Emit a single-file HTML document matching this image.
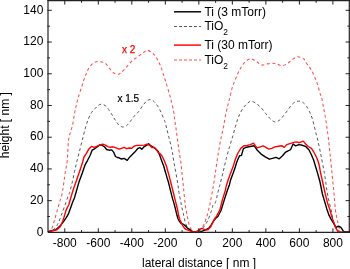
<!DOCTYPE html>
<html><head><meta charset="utf-8"><style>
html,body{margin:0;padding:0;background:#fff;}
body{width:350px;height:269px;overflow:hidden;}
svg{display:block;filter:blur(0.35px);}
text{font-family:"Liberation Sans",sans-serif;font-size:12px;fill:#000;}
</style></head><body>
<svg width="350" height="269" viewBox="0 0 350 269">
<rect width="350" height="269" fill="#fff"/>
<g fill="none" stroke-linejoin="round" stroke-linecap="butt">
<path d="M48.00,232.00 C48.53,231.67 50.18,231.75 51.20,230.00 C52.22,228.25 53.15,224.57 54.10,221.50 C55.05,218.43 55.97,214.90 56.90,211.60 C57.83,208.30 59.00,203.97 59.70,201.70 C60.40,199.43 60.62,199.77 61.10,198.00 C61.58,196.23 62.12,193.90 62.60,191.10 C63.08,188.30 63.53,184.50 64.00,181.20 C64.47,177.90 64.85,174.83 65.40,171.30 C65.95,167.77 66.78,165.13 67.30,160.00 C67.82,154.87 67.97,145.17 68.50,140.50 C69.03,135.83 69.82,134.57 70.50,132.00 C71.18,129.43 71.93,128.15 72.60,125.10 C73.27,122.05 73.87,117.08 74.50,113.70 C75.13,110.32 75.70,107.75 76.40,104.80 C77.10,101.85 77.77,99.13 78.70,96.00 C79.63,92.87 81.13,88.70 82.00,86.00 C82.87,83.30 83.27,81.67 83.90,79.80 C84.53,77.93 85.17,76.38 85.80,74.80 C86.43,73.22 86.85,71.88 87.70,70.30 C88.55,68.72 89.63,66.67 90.90,65.30 C92.17,63.93 93.73,62.70 95.30,62.10 C96.87,61.50 98.62,61.48 100.30,61.70 C101.98,61.92 103.92,62.38 105.40,63.40 C106.88,64.42 107.87,66.23 109.20,67.80 C110.53,69.37 111.90,71.72 113.40,72.80 C114.90,73.88 116.87,74.37 118.20,74.30 C119.53,74.23 120.35,73.23 121.40,72.40 C122.45,71.57 123.35,70.55 124.50,69.30 C125.65,68.05 126.92,66.42 128.30,64.90 C129.68,63.38 131.22,61.58 132.80,60.20 C134.38,58.82 136.12,57.78 137.80,56.60 C139.48,55.42 141.32,54.15 142.90,53.10 C144.48,52.05 145.83,50.35 147.30,50.30 C148.77,50.25 150.38,51.85 151.70,52.80 C153.02,53.75 153.77,53.92 155.20,56.00 C156.63,58.08 158.62,61.22 160.30,65.30 C161.98,69.38 163.68,75.38 165.30,80.50 C166.92,85.62 168.90,92.15 170.00,96.00 C171.10,99.85 171.27,100.87 171.90,103.60 C172.53,106.33 173.33,109.67 173.80,112.40 C174.27,115.13 174.35,117.47 174.70,120.00 C175.05,122.53 175.53,125.07 175.90,127.60 C176.27,130.13 176.53,132.47 176.90,135.20 C177.27,137.93 177.73,141.27 178.10,144.00 C178.47,146.73 178.63,148.50 179.10,151.60 C179.57,154.70 180.38,158.65 180.90,162.60 C181.42,166.55 181.83,171.73 182.20,175.30 C182.57,178.87 182.80,181.12 183.10,184.00 C183.40,186.88 183.63,189.05 184.00,192.60 C184.37,196.15 184.78,201.55 185.30,205.30 C185.82,209.05 186.48,211.98 187.10,215.10 C187.72,218.22 188.27,221.57 189.00,224.00 C189.73,226.43 190.45,228.40 191.50,229.70 C192.55,231.00 194.25,231.50 195.30,231.80 C196.35,232.10 196.85,231.97 197.80,231.50 C198.75,231.03 199.95,230.25 201.00,229.00 C202.05,227.75 203.05,226.32 204.10,224.00 C205.15,221.68 206.45,217.85 207.30,215.10 C208.15,212.35 208.70,209.58 209.20,207.50 C209.70,205.42 209.73,205.52 210.30,202.60 C210.87,199.68 212.07,192.88 212.60,190.00 C213.13,187.12 213.03,188.20 213.50,185.30 C213.97,182.40 214.72,177.22 215.40,172.60 C216.08,167.98 216.92,162.00 217.60,157.60 C218.28,153.20 218.87,149.78 219.50,146.20 C220.13,142.62 220.70,139.47 221.40,136.10 C222.10,132.73 222.97,129.73 223.70,126.00 C224.43,122.27 225.03,117.43 225.80,113.70 C226.57,109.97 227.57,106.55 228.30,103.60 C229.03,100.65 229.52,98.78 230.20,96.00 C230.88,93.22 231.60,89.48 232.40,86.90 C233.20,84.32 234.15,82.62 235.00,80.50 C235.85,78.38 236.67,76.08 237.50,74.20 C238.33,72.32 239.05,70.88 240.00,69.20 C240.95,67.52 242.03,65.58 243.20,64.10 C244.37,62.62 245.63,61.18 247.00,60.30 C248.37,59.42 250.02,58.72 251.40,58.80 C252.78,58.88 254.23,60.18 255.30,60.80 C256.37,61.42 256.75,61.78 257.80,62.50 C258.85,63.22 260.23,64.82 261.60,65.10 C262.97,65.38 264.32,64.52 266.00,64.20 C267.68,63.88 269.90,63.27 271.70,63.20 C273.50,63.13 275.12,63.38 276.80,63.80 C278.48,64.22 280.12,65.70 281.80,65.70 C283.48,65.70 285.22,64.75 286.90,63.80 C288.58,62.85 290.17,61.17 291.90,60.00 C293.63,58.83 295.30,56.97 297.30,56.80 C299.30,56.63 302.58,58.22 303.90,59.00 C305.22,59.78 303.93,59.60 305.20,61.50 C306.47,63.40 309.60,67.02 311.50,70.40 C313.40,73.78 315.12,77.80 316.60,81.80 C318.08,85.80 319.57,91.82 320.40,94.40 C321.23,96.98 321.08,95.13 321.60,97.30 C322.12,99.47 322.87,104.03 323.50,107.40 C324.13,110.77 324.83,114.18 325.40,117.50 C325.97,120.82 326.45,124.20 326.90,127.30 C327.35,130.40 327.73,133.15 328.10,136.10 C328.47,139.05 328.78,142.05 329.10,145.00 C329.42,147.95 329.73,151.30 330.00,153.80 C330.27,156.30 330.38,156.87 330.70,160.00 C331.02,163.13 331.48,168.38 331.90,172.60 C332.32,176.82 332.82,181.40 333.20,185.30 C333.58,189.20 333.83,191.88 334.20,196.00 C334.57,200.12 334.98,206.48 335.40,210.00 C335.82,213.52 336.25,214.87 336.70,217.10 C337.15,219.33 337.65,221.45 338.10,223.40 C338.55,225.35 338.95,227.38 339.40,228.80 C339.85,230.22 340.03,231.32 340.80,231.90 C341.57,232.48 342.47,232.23 344.00,232.30 C345.53,232.37 349.00,232.30 350.00,232.30" stroke="#ff4c4c" stroke-width="1.05" stroke-dasharray="3 2.6"/>
<path d="M48.00,232.00 C48.42,231.93 49.60,231.93 50.50,231.60 C51.40,231.27 52.22,231.22 53.40,230.00 C54.58,228.78 56.32,226.67 57.60,224.30 C58.88,221.93 59.92,218.87 61.10,215.80 C62.28,212.73 63.52,209.20 64.70,205.90 C65.88,202.60 67.38,198.23 68.20,196.00 C69.02,193.77 68.88,194.97 69.60,192.50 C70.32,190.03 71.67,184.73 72.50,181.20 C73.33,177.67 73.90,174.48 74.60,171.30 C75.30,168.12 75.78,165.83 76.70,162.10 C77.62,158.37 79.02,153.20 80.10,148.90 C81.18,144.60 82.23,140.07 83.20,136.30 C84.17,132.53 85.03,129.22 85.90,126.30 C86.77,123.38 87.45,121.12 88.40,118.80 C89.35,116.48 90.50,114.10 91.60,112.40 C92.70,110.70 93.90,109.75 95.00,108.60 C96.10,107.45 97.15,106.23 98.20,105.50 C99.25,104.77 100.15,104.20 101.30,104.20 C102.45,104.20 104.05,104.87 105.10,105.50 C106.15,106.13 106.55,106.63 107.60,108.00 C108.65,109.37 110.13,111.70 111.40,113.70 C112.67,115.70 113.93,118.10 115.20,120.00 C116.47,121.90 117.73,123.93 119.00,125.10 C120.27,126.27 121.53,126.90 122.80,127.00 C124.07,127.10 125.33,126.65 126.60,125.70 C127.87,124.75 129.13,122.88 130.40,121.30 C131.67,119.72 132.77,117.88 134.20,116.20 C135.63,114.52 137.57,112.98 139.00,111.20 C140.43,109.42 141.53,107.18 142.80,105.50 C144.07,103.82 145.33,102.10 146.60,101.10 C147.87,100.10 149.13,99.40 150.40,99.50 C151.67,99.60 152.93,100.50 154.20,101.70 C155.47,102.90 156.85,104.92 158.00,106.70 C159.15,108.48 160.15,110.38 161.10,112.40 C162.05,114.42 163.02,117.12 163.70,118.80 C164.38,120.48 164.63,120.62 165.20,122.50 C165.77,124.38 166.47,127.57 167.10,130.10 C167.73,132.63 168.37,135.17 169.00,137.70 C169.63,140.23 170.32,142.77 170.90,145.30 C171.48,147.83 171.98,150.02 172.50,152.90 C173.02,155.78 173.43,159.28 174.00,162.60 C174.57,165.92 175.27,169.23 175.90,172.80 C176.53,176.37 177.28,180.70 177.80,184.00 C178.32,187.30 178.40,189.10 179.00,192.60 C179.60,196.10 180.68,201.47 181.40,205.00 C182.12,208.53 182.57,210.63 183.30,213.80 C184.03,216.97 184.85,221.35 185.80,224.00 C186.75,226.65 187.83,228.40 189.00,229.70 C190.17,231.00 191.55,231.43 192.80,231.80 C194.05,232.17 195.25,232.15 196.50,231.90 C197.75,231.65 199.03,231.20 200.30,230.30 C201.57,229.40 202.83,228.18 204.10,226.50 C205.37,224.82 206.63,222.93 207.90,220.20 C209.17,217.47 210.85,212.63 211.70,210.10 C212.55,207.57 212.38,206.25 213.00,205.00 C213.62,203.75 214.48,205.10 215.40,202.60 C216.32,200.10 217.77,192.88 218.50,190.00 C219.23,187.12 219.05,188.20 219.80,185.30 C220.55,182.40 221.92,177.07 223.00,172.60 C224.08,168.13 225.18,162.90 226.30,158.50 C227.42,154.10 228.62,149.93 229.70,146.20 C230.78,142.47 231.87,139.33 232.80,136.10 C233.73,132.87 234.47,129.68 235.30,126.80 C236.13,123.92 236.97,121.08 237.80,118.80 C238.63,116.52 239.35,115.00 240.30,113.10 C241.25,111.20 242.23,109.08 243.50,107.40 C244.77,105.72 246.60,104.05 247.90,103.00 C249.20,101.95 249.90,101.00 251.30,101.10 C252.70,101.20 254.62,102.45 256.30,103.60 C257.98,104.75 259.82,106.32 261.40,108.00 C262.98,109.68 264.43,112.02 265.80,113.70 C267.17,115.38 268.12,116.73 269.60,118.10 C271.08,119.47 273.02,121.58 274.70,121.90 C276.38,122.22 278.13,121.15 279.70,120.00 C281.27,118.85 282.73,116.68 284.10,115.00 C285.47,113.32 286.63,111.60 287.90,109.90 C289.17,108.20 290.50,106.10 291.70,104.80 C292.90,103.50 293.92,102.72 295.10,102.10 C296.28,101.48 297.55,101.07 298.80,101.10 C300.05,101.13 301.33,101.47 302.60,102.30 C303.87,103.13 305.23,104.52 306.40,106.10 C307.57,107.68 308.65,109.80 309.60,111.80 C310.55,113.80 311.33,115.73 312.10,118.10 C312.87,120.47 313.53,123.42 314.20,126.00 C314.87,128.58 315.47,131.07 316.10,133.60 C316.73,136.13 317.37,138.47 318.00,141.20 C318.63,143.93 319.32,147.20 319.90,150.00 C320.48,152.80 320.77,154.23 321.50,158.00 C322.23,161.77 323.52,168.05 324.30,172.60 C325.08,177.15 325.67,181.73 326.20,185.30 C326.73,188.87 327.03,191.32 327.50,194.00 C327.97,196.68 328.37,198.68 329.00,201.40 C329.63,204.12 330.68,207.57 331.30,210.30 C331.92,213.03 331.97,214.82 332.70,217.80 C333.43,220.78 334.45,225.93 335.70,228.20 C336.95,230.47 338.82,230.77 340.20,231.40 C341.58,232.03 342.37,231.87 344.00,232.00 C345.63,232.13 349.00,232.17 350.00,232.20" stroke="#585858" stroke-width="1" stroke-dasharray="3 2.6"/>
<path d="M48.0,231.6 L51.2,230.7 L55.5,230.0 L59.7,226.4 L62.6,222.9 L66.1,217.9 L68.2,214.4 L70.3,208.7 L72.5,202.4 L74.6,197.4 L76.0,192.5 L78.8,182.6 L82.4,172.7 L85.2,164.6 L87.6,160.3 L90.2,155.2 L92.1,150.2 L94.0,149.2 L97.1,147.0 L99.7,144.9 L102.2,145.4 L104.7,147.0 L106.6,149.5 L109.1,150.2 L111.7,149.9 L113.6,152.1 L115.5,156.5 L117.3,157.5 L119.0,157.8 L121.5,159.0 L124.1,158.4 L127.2,160.3 L129.1,157.8 L131.6,155.2 L134.8,152.1 L138.0,148.3 L139.9,147.6 L141.8,149.2 L144.3,146.6 L146.8,145.1 L148.7,143.8 L150.6,145.7 L153.1,147.0 L155.7,148.9 L158.2,151.4 L158.9,153.3 L160.0,156.0 L161.4,160.0 L162.7,163.4 L163.7,166.0 L165.0,170.7 L166.4,175.4 L167.7,180.1 L168.4,182.0 L169.7,187.4 L171.0,192.7 L172.4,198.1 L174.0,203.4 L175.4,208.7 L176.2,212.2 L177.0,215.3 L178.0,218.7 L179.4,221.4 L181.4,223.7 L183.7,224.4 L185.4,226.1 L187.4,228.1 L189.6,229.3 L191.3,230.9 L193.4,231.8 L196.5,232.2 L199.7,232.2 L202.9,230.9 L206.0,229.7 L208.6,228.4 L211.1,225.2 L213.5,221.0 L215.5,218.5 L217.9,216.5 L221.1,210.2 L224.2,200.1 L227.4,190.3 L229.3,185.3 L230.5,180.2 L234.3,170.1 L236.5,163.0 L237.7,159.8 L239.6,155.8 L241.5,155.4 L243.4,148.6 L246.5,147.2 L250.3,146.5 L254.1,145.7 L257.3,150.3 L261.1,154.1 L264.9,156.7 L269.3,159.2 L272.5,158.3 L276.0,157.3 L279.2,158.8 L282.3,156.0 L285.5,152.2 L288.0,151.0 L290.5,149.7 L293.1,144.0 L295.6,145.9 L298.8,144.6 L302.5,145.3 L305.7,146.5 L308.9,149.7 L311.4,154.8 L313.6,160.0 L317.4,172.6 L319.9,181.5 L322.4,194.0 L324.6,201.4 L326.8,208.9 L329.1,215.4 L330.9,218.9 L333.2,222.5 L334.9,225.6 L336.3,227.4 L337.6,226.5 L339.0,226.3 L340.8,227.4 L342.1,229.2 L343.4,231.3 L345.2,231.9 L350.0,231.7" stroke="#000" stroke-width="1.4"/>
<path d="M49.5,232.0 L50.5,231.3 L52.7,230.7 L56.9,229.7 L60.4,226.4 L62.6,221.5 L64.0,217.2 L66.1,210.1 L68.9,204.5 L70.3,199.5 L71.3,196.0 L73.2,189.7 L76.7,179.8 L80.5,168.7 L82.8,161.5 L84.0,157.0 L86.4,153.3 L88.9,148.9 L91.4,146.4 L94.0,147.4 L96.5,146.4 L99.7,145.1 L102.8,144.1 L105.3,145.1 L107.9,146.6 L110.4,147.3 L112.9,146.8 L115.5,147.6 L119.0,149.2 L121.5,148.3 L124.1,147.4 L126.6,148.7 L129.1,148.0 L131.6,148.3 L134.2,146.1 L136.7,145.4 L140.5,145.4 L144.3,145.1 L146.8,144.1 L149.3,145.1 L151.9,147.6 L154.4,147.4 L156.9,150.5 L158.0,152.3 L160.7,154.2 L162.4,156.7 L164.0,160.0 L165.4,163.4 L166.4,166.0 L167.7,170.7 L169.0,175.4 L170.0,179.4 L170.7,182.0 L172.0,187.4 L173.4,192.7 L174.7,198.1 L176.0,203.4 L177.4,208.7 L178.1,212.5 L178.7,216.0 L180.0,220.0 L181.7,223.4 L183.0,226.1 L184.4,228.1 L186.0,229.4 L190.0,230.8 L193.4,231.8 L196.5,231.5 L199.1,229.7 L201.6,228.4 L203.5,229.0 L205.4,230.0 L207.9,229.7 L210.5,227.1 L212.6,223.0 L214.5,219.0 L216.6,216.2 L219.8,210.2 L222.3,200.1 L225.5,190.0 L226.1,186.5 L228.0,180.2 L231.8,170.1 L233.5,165.5 L235.3,159.5 L237.7,153.5 L240.8,148.4 L244.0,145.7 L247.2,145.5 L250.3,144.6 L253.5,143.1 L255.4,145.9 L257.3,147.8 L260.4,146.9 L263.0,145.9 L265.5,147.2 L268.7,149.1 L271.8,148.4 L275.0,146.9 L278.5,146.2 L281.7,145.7 L284.2,147.4 L286.7,144.6 L289.9,143.6 L293.1,142.7 L296.2,141.9 L299.4,142.7 L303.2,141.1 L305.7,144.0 L308.2,146.5 L311.4,148.4 L313.9,152.2 L316.5,157.3 L318.0,161.0 L319.3,165.5 L320.5,172.6 L323.1,184.0 L325.3,194.0 L327.5,202.9 L330.0,210.0 L331.4,215.4 L332.7,219.8 L334.5,224.3 L335.8,227.9 L337.2,230.5 L338.5,231.9 L341.6,232.3 L350.0,232.1" stroke="#ff0000" stroke-width="1.4"/>
</g>
<g fill="none" stroke="#222" stroke-width="1.2">
<path d="M48.0,0 V232.4"/>
<path d="M48.0,232.4 H350"/>
<path d="M47.4,0.6 H350"/>
<path d="M349.3,0 V232.4"/>
<path d="M64.78,232.9 V228.3 M64.78,0 V4.6 M81.54,232.9 V230.1 M81.54,0 V2.8 M98.30,232.9 V228.3 M98.30,0 V4.6 M115.06,232.9 V230.1 M115.06,0 V2.8 M131.81,232.9 V228.3 M131.81,0 V4.6 M148.57,232.9 V230.1 M148.57,0 V2.8 M165.33,232.9 V228.3 M165.33,0 V4.6 M182.08,232.9 V230.1 M182.08,0 V2.8 M198.84,232.9 V228.3 M198.84,0 V4.6 M215.60,232.9 V230.1 M215.60,0 V2.8 M232.35,232.9 V228.3 M232.35,0 V4.6 M249.11,232.9 V230.1 M249.11,0 V2.8 M265.87,232.9 V228.3 M265.87,0 V4.6 M282.62,232.9 V230.1 M282.62,0 V2.8 M299.38,232.9 V228.3 M299.38,0 V4.6 M316.14,232.9 V230.1 M316.14,0 V2.8 M332.90,232.9 V228.3 M332.90,0 V4.6 M47.4,216.54 H50.0 M350,216.54 H347.4 M47.4,200.67 H51.8 M350,200.67 H345.6 M47.4,184.81 H50.0 M350,184.81 H347.4 M47.4,168.94 H51.8 M350,168.94 H345.6 M47.4,153.08 H50.0 M350,153.08 H347.4 M47.4,137.22 H51.8 M350,137.22 H345.6 M47.4,121.35 H50.0 M350,121.35 H347.4 M47.4,105.49 H51.8 M350,105.49 H345.6 M47.4,89.62 H50.0 M350,89.62 H347.4 M47.4,73.76 H51.8 M350,73.76 H345.6 M47.4,57.90 H50.0 M350,57.90 H347.4 M47.4,42.03 H51.8 M350,42.03 H345.6 M47.4,26.17 H50.0 M350,26.17 H347.4 M47.4,10.30 H51.8 M350,10.30 H345.6" stroke-width="1"/>
</g>
<text x="43.4" y="235.60" text-anchor="end">0</text><text x="43.4" y="203.87" text-anchor="end">20</text><text x="43.4" y="172.14" text-anchor="end">40</text><text x="43.4" y="140.42" text-anchor="end">60</text><text x="43.4" y="108.69" text-anchor="end">80</text><text x="43.4" y="76.96" text-anchor="end">100</text><text x="43.4" y="45.23" text-anchor="end">120</text><text x="43.4" y="13.50" text-anchor="end">140</text>
<text x="64.78" y="246.6" text-anchor="middle">-800</text><text x="98.30" y="246.6" text-anchor="middle">-600</text><text x="131.81" y="246.6" text-anchor="middle">-400</text><text x="165.33" y="246.6" text-anchor="middle">-200</text><text x="198.84" y="246.6" text-anchor="middle">0</text><text x="232.35" y="246.6" text-anchor="middle">200</text><text x="265.87" y="246.6" text-anchor="middle">400</text><text x="299.38" y="246.6" text-anchor="middle">600</text><text x="332.90" y="246.6" text-anchor="middle">800</text>
<text x="142" y="266.6">lateral distance [ nm ]</text>
<text transform="translate(8.6,158.2) rotate(-90)">height [ nm ]</text>
<text x="117.5" y="102" style="font-size:10px;stroke:#000;stroke-width:0.2">x 1.5</text>
<text x="121.9" y="52.8" style="font-size:10px;fill:#ff0000;stroke:#ff0000;stroke-width:0.25">x 2</text>
<g stroke-width="1.45" fill="none">
<path d="M174,11.8 H201" stroke="#000"/>
<path d="M174,26.5 H201" stroke="#585858" stroke-width="1" stroke-dasharray="3 2"/>
<path d="M174,45.1 H201" stroke="#ff0000"/>
<path d="M174,59.9 H201" stroke="#ff4c4c" stroke-width="1.05" stroke-dasharray="3 2"/>
</g>
<text x="204.4" y="15.8">Ti (3 mTorr)</text>
<text x="204.4" y="30.3">TiO<tspan dy="5" style="font-size:8.4px">2</tspan></text>
<text x="204.4" y="48.9">Ti (30 mTorr)</text>
<text x="204.4" y="63.6">TiO<tspan dy="5" style="font-size:8.4px">2</tspan></text>
</svg>
</body></html>
